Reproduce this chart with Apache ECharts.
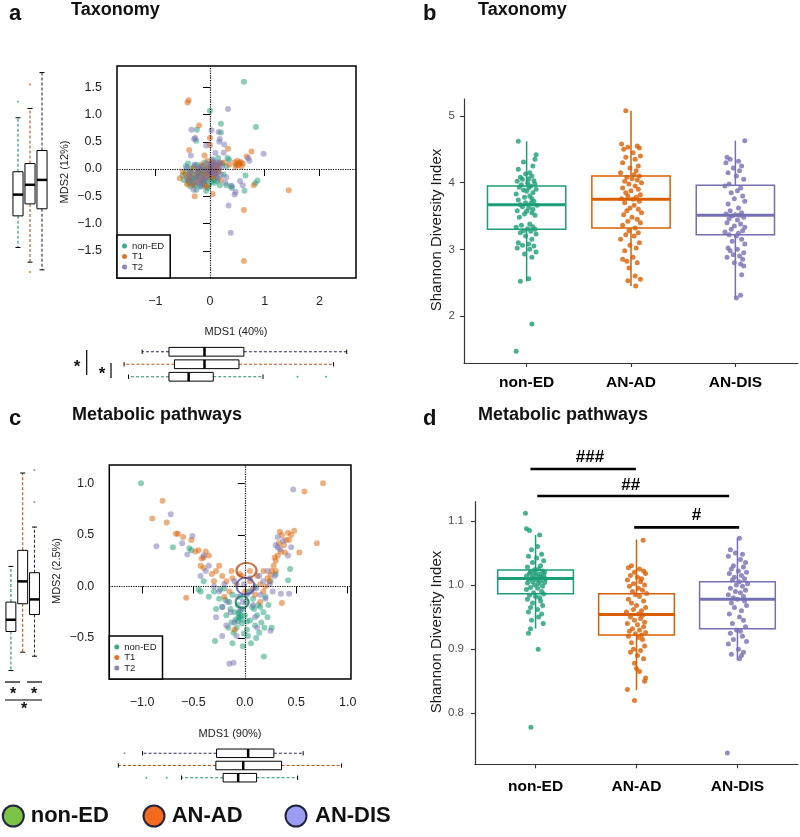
<!DOCTYPE html>
<html><head><meta charset="utf-8">
<script src="https://cdn.jsdelivr.net/npm/echarts@6/dist/echarts.min.js"></script>
<style>html,body{margin:0;padding:0;background:#fff;}#chart{width:800px;height:837px;}</style>
</head><body><div id="chart"></div>
<script>
const FONT = '"Liberation Sans", Arial, Helvetica, sans-serif';
const groupsShort = ['non-ED', 'T1', 'T2'];
const groupsLong = ['non-ED', 'AN-AD', 'AN-DIS'];
const COL = ['#1B9E77', '#D95F02', '#7570B3'];
const WHISK = ['#2a8a70', '#b8531c', '#2e2e55'];

// ---- panel a: taxonomy ordination (MDS1, MDS2) ----
const aNonED = [[0.62,1.60],[0.00,1.07],[0.84,0.77],[0.20,0.83],[-0.24,0.72],[-0.25,0.52],[0.20,0.67],[0.32,0.20],[0.35,0.17],[0.63,-0.40],[0.65,-0.12],[0.83,-0.26],[0.87,-0.21],[0.38,-0.31],[0.30,-0.30],[0.07,-0.20],[-0.07,-0.40],[0.22,0.10],[0.15,0.20],[0.30,0.05],
 [-0.45,-0.05],[-0.42,-0.15],[-0.38,-0.22],[-0.35,0.00],[-0.33,-0.10],[-0.30,-0.28],[-0.28,-0.18],[-0.26,-0.05],[-0.24,0.08],[-0.22,-0.25],[-0.20,-0.12],[-0.18,-0.32],[-0.16,-0.02],[-0.15,-0.20],[-0.13,0.05],[-0.12,-0.15],[-0.10,-0.28],[-0.08,-0.08],[-0.06,-0.22],[-0.05,0.02],[-0.03,-0.12],[-0.02,-0.30],[0.00,-0.05],[0.02,-0.18],[0.04,0.06],[0.06,-0.10],[0.08,-0.25],[0.10,0.00],[0.12,-0.15],[0.15,-0.05],[-0.40,0.10],[-0.36,-0.32],[-0.25,-0.38],[-0.48,-0.20],[0.18,-0.30],[-0.10,0.12],[0.05,0.15],
 [-0.40,-0.25],[-0.37,-0.05],[-0.32,-0.16],[-0.29,0.05],[-0.27,-0.30],[-0.21,-0.08],[-0.19,0.02],[-0.14,-0.26],[-0.11,-0.05],[-0.09,-0.20],[-0.04,-0.35],[-0.01,-0.10],[0.03,-0.24],[0.09,-0.08],[0.13,-0.22],[-0.44,0.05],[-0.34,-0.20],[-0.23,-0.14],[-0.17,-0.08],[0.11,0.08],[0.25,-0.10],[0.40,-0.35],[-0.50,-0.12]];
const aT1 = [[-0.39,1.26],[-0.41,1.22],[1.44,-0.39],[0.62,-1.69],[0.62,-0.75],[0.76,0.32],[0.67,0.23],[0.54,0.11],[0.48,0.08],[0.58,0.05],[0.50,0.15],[0.45,0.12],[0.60,0.10],[-0.20,0.80],[-0.38,0.35],[0.00,0.57],[0.00,0.44],[0.33,0.37],[-0.28,-0.50],[0.05,-0.46],[-0.06,-0.32],[-0.55,-0.17],[0.25,0.12],[0.35,0.08],[0.80,-0.30],
 [-0.45,-0.10],[-0.40,-0.20],[-0.35,-0.08],[-0.30,0.02],[-0.28,-0.25],[-0.25,-0.15],[-0.20,-0.02],[-0.18,-0.22],[-0.15,0.08],[-0.12,-0.10],[-0.10,-0.30],[-0.08,0.00],[-0.05,-0.15],[-0.02,0.05],[0.00,-0.05],[0.02,0.02],[0.04,-0.08],[0.06,0.06],[0.08,-0.02],[0.10,0.03],[0.12,-0.06],[0.03,0.10],[0.07,0.12],[-0.04,0.15],[0.14,0.08],[0.09,-0.12],[-0.33,-0.30],[0.20,-0.20],[-0.10,0.25],
 [0.01,-0.02],[0.03,0.00],[0.05,-0.04],[0.07,0.02],[0.09,0.05],[0.11,-0.01],[0.13,0.04],[0.05,0.08],[-0.01,-0.08],[0.02,-0.12],[0.06,-0.15],[-0.07,-0.05],[-0.13,-0.18],[-0.23,-0.08],[-0.38,-0.15],[-0.42,-0.28],[0.16,-0.03],[0.18,0.10],[0.52,0.07],[0.56,0.13],[0.47,0.04],[-0.50,-0.05]];
const aT2 = [[0.33,1.10],[0.98,0.28],[0.38,-1.17],[0.34,-0.67],[-0.34,0.72],[-0.27,0.57],[-0.29,0.55],[-0.07,0.43],[0.03,0.71],[0.16,0.68],[0.18,0.55],[0.17,0.50],[0.26,0.45],[0.45,-0.47],[0.47,-0.42],[0.40,-0.31],[0.30,-0.15],[0.55,-0.22],[0.70,0.20],[0.72,0.15],[-0.35,0.25],[0.25,0.30],[0.10,0.30],
 [-0.42,0.02],[-0.38,-0.12],[-0.32,-0.25],[-0.28,0.08],[-0.24,-0.08],[-0.20,-0.20],[-0.17,0.04],[-0.14,-0.12],[-0.11,-0.02],[-0.08,-0.18],[-0.05,0.10],[-0.02,-0.06],[0.01,0.08],[0.04,-0.02],[0.07,0.10],[0.10,-0.04],[0.13,0.12],[0.16,0.02],[0.20,-0.10],[0.05,0.18],[-0.15,-0.32],[0.22,0.05],[-0.30,-0.38],
 [-0.36,-0.05],[-0.26,-0.16],[-0.22,0.00],[-0.12,-0.22],[-0.06,-0.02],[0.00,-0.12],[0.03,0.03],[0.06,-0.08],[0.09,0.06],[0.12,-0.10],[0.15,-0.18],[-0.19,-0.28],[0.18,0.12],[-0.40,-0.20],[0.28,-0.25],[0.60,-0.30]];
// marginal boxplots: [lowWhisker, Q1, median, Q3, highWhisker]
const aBoxMDS2 = [[-1.44,-0.86,-0.47,-0.05,0.94],[-1.71,-0.64,-0.29,0.10,1.11],[-1.85,-0.73,-0.20,0.34,1.77]];
const aOutMDS2 = [[1.24],[1.55,-1.89],[]];
const aBoxMDS1 = [[-1.49,-0.75,-0.39,0.06,0.97],[-1.57,-0.65,-0.10,0.53,2.26],[-1.24,-0.75,-0.10,0.62,2.50]];
const aOutMDS1 = [[1.60,2.12],[],[]];

// ---- panel b: taxonomy Shannon ----
const bBoxes = [[2.52,3.30,3.67,3.95,4.62],[2.45,3.32,3.75,4.10,5.08],[2.27,3.22,3.51,3.96,4.63]];
const bNonED = [4.62,4.42,4.35,4.31,4.25,4.20,4.15,4.13,4.10,4.08,4.06,4.05,4.03,4.02,4.00,3.98,3.97,3.95,3.93,3.92,3.90,3.89,3.87,3.85,3.83,3.80,3.78,3.76,3.74,3.72,3.70,3.69,3.67,3.66,3.64,3.62,3.60,3.58,3.57,3.55,3.53,3.51,3.48,3.38,3.36,3.34,3.33,3.31,3.30,3.28,3.27,3.25,3.23,3.20,3.15,3.10,3.08,3.06,3.05,3.02,3.00,2.96,2.93,2.88,2.56,2.52,1.88,1.47];
const bNonEDJit = [-0.08,0.09,0.08,-0.03,0.06,-0.08,0.03,-0.01,0.05,-0.06,0.02,-0.04,0.07,-0.09,0.01,0.08,-0.05,0.04,-0.07,0.02,0.09,-0.03,0.00,0.06,-0.10,0.03,-0.02,0.05,-0.08,0.07,-0.01,0.04,-0.06,0.10,-0.04,0.02,0.06,-0.09,0.00,0.05,-0.02,0.08,-0.07,0.03,-0.05,0.06,-0.10,0.01,0.08,-0.03,0.04,-0.06,0.09,-0.01,0.05,-0.08,0.02,-0.04,0.07,-0.09,0.03,0.09,-0.02,0.05,0.02,-0.06,0.05,-0.10];
const bANAD = [5.08,4.58,4.55,4.53,4.52,4.50,4.45,4.40,4.38,4.35,4.30,4.25,4.22,4.18,4.15,4.12,4.10,4.08,4.06,4.04,4.02,4.00,3.98,3.95,3.92,3.90,3.88,3.85,3.82,3.80,3.78,3.76,3.75,3.72,3.70,3.66,3.62,3.60,3.58,3.55,3.52,3.48,3.45,3.42,3.40,3.36,3.32,3.28,3.25,3.22,3.20,3.15,3.10,3.06,3.02,2.98,2.88,2.85,2.82,2.80,2.72,2.60,2.55,2.53,2.45];
const bANADJit = [-0.05,-0.09,0.06,-0.03,0.08,-0.07,0.02,0.09,-0.05,0.04,-0.08,0.07,-0.01,0.05,-0.10,0.03,0.08,-0.04,0.01,0.06,-0.06,0.10,-0.02,0.04,-0.08,0.07,0.00,-0.05,0.09,-0.03,0.05,-0.09,0.02,0.08,-0.06,0.03,-0.01,0.07,-0.04,0.10,-0.07,0.01,0.06,-0.03,0.09,-0.08,0.04,-0.02,0.07,-0.05,0.03,-0.10,0.08,-0.01,0.05,-0.06,0.02,-0.08,-0.04,0.06,-0.02,0.04,0.09,-0.03,0.045];
const bANDIS = [4.63,4.38,4.35,4.32,4.30,4.25,4.22,4.18,4.15,4.10,4.05,3.98,3.95,3.92,3.88,3.85,3.80,3.76,3.72,3.68,3.62,3.58,3.55,3.53,3.52,3.51,3.50,3.48,3.46,3.44,3.40,3.38,3.35,3.33,3.30,3.28,3.26,3.24,3.22,3.20,3.15,3.12,3.08,3.02,3.00,2.98,2.95,2.92,2.90,2.88,2.85,2.80,2.78,2.75,2.62,2.31,2.27];
const bANDISJit = [0.09,-0.08,-0.05,0.03,-0.09,0.06,-0.02,0.04,-0.07,0.01,0.08,-0.06,-0.10,0.05,0.02,-0.04,0.07,-0.01,0.09,-0.07,0.03,-0.05,0.06,-0.09,0.00,0.04,-0.03,0.08,-0.06,0.02,-0.08,0.05,-0.01,0.09,-0.04,0.07,-0.10,0.03,-0.06,0.01,0.06,-0.03,0.09,-0.07,0.02,-0.05,0.08,-0.02,0.04,-0.08,0.07,-0.01,0.05,0.08,0.06,0.05,0.01];

// ---- panel c: metabolic pathway ordination ----
const cNonED = [[-1.01,1.00],[-0.70,0.38],[-0.54,0.37],[-0.52,0.35],[-0.45,-0.03],[-0.43,-0.05],[-0.40,0.05],[0.44,0.17],[0.42,0.06],[0.185,-0.68],[-0.29,-0.53],[0.03,-0.48],[0.30,0.12],[0.25,0.05],[0.20,-0.10],[0.15,-0.20],
 [-0.30,-0.05],[-0.25,-0.12],[-0.22,-0.20],[-0.20,-0.02],[-0.18,-0.28],[-0.15,-0.15],[-0.13,-0.35],[-0.12,-0.08],[-0.10,-0.25],[-0.08,-0.40],[-0.07,-0.18],[-0.05,-0.30],[-0.04,-0.10],[-0.03,-0.36],[-0.02,-0.22],[0.00,-0.28],[0.01,-0.15],[0.02,-0.42],[0.04,-0.05],[0.05,-0.33],[0.07,-0.20],[0.08,-0.12],[0.10,-0.38],[0.12,-0.28],[0.14,-0.45],[0.16,-0.35],[0.18,-0.25],[0.22,-0.30],[-0.06,-0.26],[-0.09,-0.32],[-0.11,-0.45],[-0.16,-0.40],[-0.28,-0.22],[0.06,-0.55],[-0.02,-0.58],[0.26,-0.40],[0.10,0.00],[-0.35,-0.10],
 [-0.06,-0.30],[-0.04,-0.28],[-0.03,-0.32],[-0.07,-0.34],[-0.05,-0.24],[0.02,-0.34],[0.09,-0.22],[0.13,-0.18],[-0.14,-0.22],[-0.19,-0.13],[-0.24,-0.03],[0.19,-0.40],[0.23,-0.18],[-0.01,-0.46],[0.11,-0.50],[-0.12,-0.55]];
const cT1 = [[-0.80,0.83],[-0.90,0.66],[-0.76,0.62],[-0.67,0.51],[-0.65,0.51],[-0.48,0.34],[-0.38,0.34],[-0.42,0.27],[-0.40,0.28],[-0.43,0.20],[-0.40,0.18],[-0.57,-0.11],[0.76,1.00],[0.58,0.92],[0.70,0.42],[0.53,0.33],[0.48,0.54],[0.45,0.50],[0.42,0.52],[0.36,0.50],[0.34,0.53],[0.35,0.34],[0.29,0.28],[0.30,0.25],[0.25,0.11],[0.22,0.08],[0.36,-0.16],[0.40,0.45],[0.38,0.40],[-0.28,0.15],[-0.22,0.10],[-0.18,0.05],[-0.32,0.12],[-0.25,0.20],[-0.12,0.08],[-0.08,0.02],[-0.05,0.12],[0.05,0.05],[0.08,-0.02],[0.12,0.10],[0.15,0.02],[0.18,0.15],[0.20,0.00],[-0.15,-0.05],[-0.20,-0.10],[0.10,-0.08],[-0.10,-0.42],[0.00,-0.05],[0.15,-0.15],[-0.30,0.05],[0.28,0.20],[0.32,0.30],
 [-0.35,0.30],[-0.45,0.35],[-0.52,0.45],[-0.60,0.48],[0.26,0.15],[0.33,0.42],[0.39,0.33],[0.43,0.45],[0.24,0.05],[-0.03,0.10],[0.05,0.15],[0.18,-0.05],[-0.13,0.15],[0.30,0.15]];
const cT2 = [[-0.72,0.70],[-0.86,0.39],[-0.51,0.49],[-0.61,0.42],[-0.56,0.31],[-0.43,0.10],[0.47,0.94],[0.37,0.44],[0.32,0.38],[0.34,0.36],[0.30,0.40],[0.35,-0.07],[0.43,-0.07],[-0.15,-0.75],[-0.11,-0.74],[-0.22,-0.48],[0.25,-0.43],[-0.35,0.20],[-0.38,0.15],[0.42,0.30],[0.45,0.38],
 [-0.25,-0.05],[-0.20,0.02],[-0.17,-0.15],[-0.14,-0.25],[-0.10,0.05],[-0.07,-0.10],[-0.04,-0.22],[-0.01,0.02],[0.02,-0.08],[0.05,0.08],[0.08,-0.18],[0.11,-0.02],[0.14,0.10],[0.18,0.05],[0.20,-0.12],[0.24,0.02],[0.22,0.15],[-0.28,-0.30],[-0.18,-0.38],[0.10,-0.30],[0.27,-0.05],[-0.10,-0.35],
 [-0.30,0.00],[-0.22,-0.20],[-0.02,-0.15],[0.06,-0.05],[0.15,-0.08],[0.32,0.48],[0.29,0.10],[-0.40,0.30],[0.12,-0.40],[-0.08,-0.48]];
const cCentroids = [[-0.026,-0.152],[0.016,0.155],[0.006,0.003]];
const cBoxMDS2 = [[-0.816,-0.437,-0.323,-0.152,0.194],[-0.638,-0.168,0.049,0.35,1.10],[-0.677,-0.272,-0.126,0.133,0.576]];
const cOutMDS2 = [[],[],[1.13,0.82]];
const cBoxMDS1 = [[-0.616,-0.211,-0.065,0.114,0.513],[-1.23,-0.282,-0.016,0.357,0.94],[-0.995,-0.275,0.032,0.282,0.567]];
const cOutMDS1 = [[-0.957,-0.76],[],[-1.17]];

// ---- panel d: metabolic pathway Shannon ----
const dBoxes = [[0.932,0.9864,1.0104,1.0234,1.078],[0.836,0.922,0.954,0.9864,1.071],[0.883,0.932,0.978,1.005,1.074]];
const dNonED = [1.112,1.088,1.085,1.078,1.060,1.055,1.048,1.045,1.042,1.038,1.035,1.030,1.028,1.025,1.024,1.022,1.021,1.020,1.019,1.018,1.017,1.016,1.015,1.014,1.013,1.012,1.011,1.010,1.009,1.008,1.006,1.005,1.004,1.003,1.002,1.000,0.998,0.996,0.995,0.993,0.990,0.988,0.986,0.984,0.982,0.980,0.978,0.975,0.972,0.968,0.965,0.962,0.958,0.955,0.950,0.945,0.940,0.932,0.925,0.900,0.778];
const dNonEDJit = [-0.10,-0.09,-0.06,0.04,0.02,-0.04,0.06,-0.07,0.01,0.08,-0.03,0.05,-0.08,0.03,-0.01,0.07,-0.05,0.09,0.00,-0.06,0.04,-0.02,0.08,-0.09,0.02,0.06,-0.04,0.10,-0.07,0.01,0.05,-0.03,0.09,-0.08,0.03,-0.01,0.07,-0.05,0.02,-0.09,0.06,-0.02,0.08,-0.06,0.00,0.04,-0.08,0.05,-0.03,0.07,-0.05,0.02,-0.07,0.06,0.03,-0.04,0.076,-0.05,-0.07,0.026,-0.046];
const dANAD = [1.070,1.030,1.027,1.025,1.022,1.020,1.018,1.015,1.012,1.010,1.008,1.005,1.002,1.000,0.998,0.995,0.992,0.990,0.987,0.985,0.982,0.978,0.975,0.972,0.968,0.965,0.962,0.960,0.958,0.955,0.953,0.950,0.948,0.945,0.942,0.940,0.938,0.935,0.932,0.930,0.928,0.926,0.924,0.922,0.920,0.918,0.915,0.910,0.905,0.900,0.898,0.895,0.890,0.885,0.878,0.870,0.865,0.855,0.850,0.837,0.820];
const dANADJit = [0.066,-0.05,-0.08,0.03,0.07,-0.02,0.09,-0.06,0.01,0.05,-0.09,0.04,-0.03,0.08,-0.07,0.02,0.06,-0.04,0.10,-0.01,0.03,-0.08,0.07,-0.05,0.00,0.09,-0.03,0.05,-0.10,0.02,0.06,-0.06,0.04,-0.02,0.08,-0.09,0.01,0.07,-0.04,0.03,-0.07,0.09,-0.01,0.05,-0.08,0.02,0.06,-0.05,0.08,-0.03,0.04,-0.06,0.01,0.07,-0.02,0.00,0.03,0.09,0.08,-0.09,-0.02];
const dANDIS = [1.073,1.055,1.050,1.048,1.045,1.040,1.035,1.030,1.028,1.025,1.022,1.020,1.018,1.015,1.012,1.010,1.008,1.005,1.002,1.000,0.998,0.995,0.992,0.990,0.988,0.985,0.982,0.980,0.978,0.975,0.972,0.968,0.965,0.960,0.955,0.950,0.945,0.940,0.935,0.930,0.928,0.925,0.920,0.915,0.912,0.908,0.900,0.895,0.892,0.890,0.885,0.738];
const dANDISJit = [0.02,-0.07,-0.02,0.05,-0.09,0.03,0.08,-0.04,0.06,-0.06,0.01,0.09,-0.08,0.04,-0.03,0.07,-0.05,0.02,0.10,-0.01,0.05,-0.07,0.08,-0.02,0.03,-0.09,0.06,-0.04,0.00,0.07,-0.06,0.09,-0.03,0.04,-0.08,0.02,0.06,-0.05,0.08,-0.01,0.03,-0.07,0.05,-0.04,0.09,-0.09,0.01,0.06,-0.06,0.04,0.02,-0.10];
// significance bars: [from, to, barY, labelX, labelY]
const dSigBars = [[0.95,1.994,1.181,1.539,1.2],[1.017,2.918,1.139,1.942,1.156],[1.977,3.017,1.090,2.595,1.109]];
const dSigLabels = ['###', '##', '#'];

const minus = s => s.replace('-', '\u2212');
const fmt1 = v => minus((Math.round(v * 10) / 10).toFixed(1));
const fmt0 = v => minus(String(Math.round(v)));

const chart = echarts.init(document.getElementById('chart'), null, {renderer: 'canvas'});

function rBoxRender(horizontal) {
  return function (params, api) {
    const pos = api.value(0);
    const gi = api.value(6);
    const c = v => horizontal ? api.coord([v, pos]) : api.coord([pos, v]);
    const vals = [1, 2, 3, 4, 5].map(i => c(api.value(i)));
    const k = horizontal ? 1 : 0, m = horizontal ? 0 : 1;
    const center = vals[0][k];
    const sz = horizontal ? api.size([0, 0.7])[1] : api.size([0.84, 0])[0];
    const hw = sz / 2, cw = hw * 0.5;
    const [lo, q1, md, q3, hi] = vals.map(p => p[m]);
    const seg = (a1, b1, a2, b2, style) => ({type: 'line', shape: horizontal ? {x1: a1, y1: b1, x2: a2, y2: b2} : {x1: b1, y1: a1, x2: b2, y2: a2}, style});
    const dash = {stroke: WHISK[gi], lineWidth: 1.1, lineDash: [3, 2]};
    const solid = {stroke: '#000', lineWidth: 1};
    return {type: 'group', children: [
      seg(q1, center, lo, center, dash),
      seg(q3, center, hi, center, dash),
      seg(lo, center - cw, lo, center + cw, solid),
      seg(hi, center - cw, hi, center + cw, solid),
      {type: 'rect', shape: horizontal ? {x: q1, y: center - hw, width: q3 - q1, height: 2 * hw} : {x: center - hw, y: q3, width: 2 * hw, height: q1 - q3}, style: {stroke: '#000', fill: 'none', lineWidth: 1}},
      seg(md, center - hw, md, center + hw, {stroke: '#000', lineWidth: 2.5})
    ]};
  };
}
function gBoxRender(params, api) {
  const pos = api.value(0), gi = api.value(6);
  const p = i => api.coord([pos, api.value(i)]);
  const lo = p(1), q1 = p(2), md = p(3), q3 = p(4), hi = p(5);
  const hw = api.size([0.75, 0])[0] / 2, cx = lo[0];
  const st = {stroke: COL[gi], lineWidth: 1.5, fill: 'none'};
  return {type: 'group', children: [
    {type: 'line', shape: {x1: cx, y1: q3[1], x2: cx, y2: hi[1]}, style: st},
    {type: 'line', shape: {x1: cx, y1: q1[1], x2: cx, y2: lo[1]}, style: st},
    {type: 'rect', shape: {x: cx - hw, y: q3[1], width: 2 * hw, height: q1[1] - q3[1]}, style: {stroke: COL[gi], lineWidth: 1.5, fill: '#fff'}},
    {type: 'line', shape: {x1: cx - hw, y1: md[1], x2: cx + hw, y2: md[1]}, style: {stroke: COL[gi], lineWidth: 3}}
  ]};
}
function sigRender(params, api) {
  const a = api.coord([api.value(0), api.value(2)]);
  const b = api.coord([api.value(1), api.value(2)]);
  const l = api.coord([api.value(3), api.value(4)]);
  return {type: 'group', children: [
    {type: 'line', shape: {x1: a[0], y1: a[1], x2: b[0], y2: b[1]}, style: {stroke: '#000', lineWidth: 2.6}},
    {type: 'text', x: l[0], y: l[1], style: {text: dSigLabels[params.dataIndex], fontSize: 17, fontWeight: 'bold', fontFamily: FONT, fill: '#000', align: 'center', verticalAlign: 'middle'}}
  ]};
}

const boxRows = (boxes) => boxes.map((b, i) => [i + 1].concat(b).concat([i]));
const outPts = (outs, horizontal) => {
  const r = [];
  outs.forEach((arr, i) => arr.forEach(v => r.push({value: horizontal ? [v, i + 1] : [i + 1, v], itemStyle: {color: COL[i]}})));
  return r;
};
const jit = (vals, jits, gi) => vals.map((v, i) => [gi + 1 + jits[i], v]);

const hidden = {show: false};
function rAxis(grid, min, max, ticks, fmt, isY) {
  return {gridIndex: grid, type: 'value', min, max, splitLine: hidden,
    axisLine: {show: false},
    axisTick: {show: true, inside: false, length: 7, customValues: ticks, lineStyle: {color: '#000', width: 1}},
    axisLabel: {customValues: ticks, formatter: fmt, margin: isY ? 15 : 17, fontSize: 12.5, color: '#222', fontFamily: FONT, hideOverlap: false}};
}
function gAxisX(grid, margin) {
  return {gridIndex: grid, type: 'value', min: 0.4, max: 3.6, splitLine: hidden,
    axisLine: {show: true, onZero: false, lineStyle: {color: '#333', width: 1.2}},
    axisTick: {show: true, length: 4, customValues: [1, 2, 3], lineStyle: {color: '#333', width: 1.1}},
    axisLabel: {customValues: [1, 2, 3], formatter: v => groupsLong[Math.round(v) - 1], margin, fontSize: 15.5, fontWeight: 'bold', color: '#000', fontFamily: FONT}};
}
function gAxisY(grid, min, max, ticks, fmt, margin) {
  return {gridIndex: grid, type: 'value', min, max, splitLine: hidden,
    axisLine: {show: true, onZero: false, lineStyle: {color: '#333', width: 1.2}},
    axisTick: {show: true, length: 4, customValues: ticks, lineStyle: {color: '#333', width: 1.1}},
    axisLabel: {customValues: ticks, formatter: fmt, margin, fontSize: 11.5, color: '#4d4d4d', fontFamily: FONT}};
}
const hAxis = (grid, min, max) => ({gridIndex: grid, type: 'value', min, max, show: false, splitLine: hidden});

const zeroLines = {silent: true, symbol: 'none', label: {show: false}, lineStyle: {type: 'dotted', color: '#000', width: 1.2}, data: [{xAxis: 0}, {yAxis: 0}], animation: false};
const ordSeries = (data, gi, ax, withLines) => ({
  type: 'scatter', name: groupsShort[gi], xAxisIndex: ax, yAxisIndex: ax, data, symbolSize: 6,
  itemStyle: {color: COL[gi], opacity: 0.5}, markLine: withLines ? zeroLines : undefined, z: 2
});
const legendCfg = (left, top) => ({
  data: groupsShort, orient: 'vertical', left, top, icon: 'circle', itemWidth: 5, itemHeight: 5, itemGap: 0.5,
  padding: [6, 6, 6, 5], backgroundColor: '#fff', borderColor: '#000', borderWidth: 1.5, borderRadius: 0,
  selectedMode: false, itemStyle: {opacity: 0.85},
  textStyle: {fontSize: 9.5, color: '#222', fontFamily: FONT, lineHeight: 10}, z: 10
});

const txt = (text, x, y, size, opts = {}) => ({type: 'text', x, y, rotation: opts.rot || 0, z: 100,
  style: {text, fontSize: size, fontWeight: opts.bold ? 'bold' : 'normal', fontFamily: FONT, fill: opts.fill || '#111', align: opts.align || 'left', verticalAlign: 'middle'}});
const seg = (x1, y1, x2, y2, w) => ({type: 'line', z: 100, shape: {x1, y1, x2, y2}, style: {stroke: '#000', lineWidth: w || 1.2}});
const LEG_Y = 816;
const legendCircle = (cx, fill) => ({type: 'circle', z: 100, shape: {cx, cy: LEG_Y, r: 10.5}, style: {fill, stroke: '#23233f', lineWidth: 2}});

const option = {
  animation: false,
  backgroundColor: '#fff',
  textStyle: {fontFamily: FONT},
  grid: [
    {left: 117, top: 66, width: 239, height: 212, show: true, borderColor: '#000', borderWidth: 1.5, backgroundColor: 'transparent'},
    {left: 12, top: 66, width: 36, height: 212},
    {left: 117, top: 345.5, width: 239, height: 37.5},
    {left: 464, top: 99, width: 334, height: 264},
    {left: 109.3, top: 465, width: 241.7, height: 214, show: true, borderColor: '#000', borderWidth: 1.5, backgroundColor: 'transparent'},
    {left: 5, top: 465, width: 35.4, height: 214},
    {left: 109.3, top: 747.2, width: 241.7, height: 36.6},
    {left: 475, top: 501.7, width: 323, height: 262.6}
  ],
  xAxis: [
    rAxis(0, -1.70, 2.67, [-1, 0, 1, 2], fmt0, false),
    hAxis(1, 0.5, 3.5),
    hAxis(2, -1.70, 2.67),
    gAxisX(3, 12),
    rAxis(4, -1.318, 1.032, [-1, -0.5, 0, 0.5, 1], fmt1, false),
    hAxis(5, 0.5, 3.5),
    hAxis(6, -1.318, 1.032),
    gAxisX(7, 14.5)
  ],
  yAxis: [
    rAxis(0, -2.0, 1.89, [-1.5, -1, -0.5, 0, 0.5, 1, 1.5], fmt1, true),
    hAxis(1, -2.0, 1.89),
    hAxis(2, 0.5, 3.5),
    gAxisY(3, 1.295, 5.255, [2, 3, 4, 5], v => String(Math.round(v)), 9),
    rAxis(4, -0.898, 1.178, [-0.5, 0, 0.5, 1], fmt1, true),
    hAxis(5, -0.898, 1.178),
    hAxis(6, 0.5, 3.5),
    gAxisY(7, 0.7204, 1.130, [0.8, 0.9, 1.0, 1.1], v => v.toFixed(1), 11)
  ],
  legend: [legendCfg(117, 235), legendCfg(109.3, 636)],
  series: [
    ordSeries(aNonED, 0, 0, true), ordSeries(aT1, 1, 0, false), ordSeries(aT2, 2, 0, false),
    {type: 'custom', name: 'aBoxMDS2', xAxisIndex: 1, yAxisIndex: 1, renderItem: rBoxRender(false), data: boxRows(aBoxMDS2), encode: {x: 0, y: [1, 2, 3, 4, 5]}},
    {type: 'scatter', name: 'aOutMDS2', xAxisIndex: 1, yAxisIndex: 1, symbolSize: 2, data: outPts(aOutMDS2, false)},
    {type: 'custom', name: 'aBoxMDS1', xAxisIndex: 2, yAxisIndex: 2, renderItem: rBoxRender(true), data: boxRows(aBoxMDS1), encode: {y: 0, x: [1, 2, 3, 4, 5]}},
    {type: 'scatter', name: 'aOutMDS1', xAxisIndex: 2, yAxisIndex: 2, symbolSize: 2, data: outPts(aOutMDS1, true)},
    {type: 'custom', name: 'bBox', xAxisIndex: 3, yAxisIndex: 3, renderItem: gBoxRender, data: boxRows(bBoxes), encode: {x: 0, y: [1, 2, 3, 4, 5]}, z: 2},
    {type: 'scatter', name: 'b non-ED', xAxisIndex: 3, yAxisIndex: 3, symbolSize: 5, itemStyle: {color: COL[0]}, data: jit(bNonED, bNonEDJit, 0), z: 3},
    {type: 'scatter', name: 'b AN-AD', xAxisIndex: 3, yAxisIndex: 3, symbolSize: 5, itemStyle: {color: COL[1]}, data: jit(bANAD, bANADJit, 1), z: 3},
    {type: 'scatter', name: 'b AN-DIS', xAxisIndex: 3, yAxisIndex: 3, symbolSize: 5, itemStyle: {color: COL[2]}, data: jit(bANDIS, bANDISJit, 2), z: 3},
    ordSeries(cNonED, 0, 4, true), ordSeries(cT1, 1, 4, false), ordSeries(cT2, 2, 4, false),
    {type: 'scatter', name: 'cCentroids', xAxisIndex: 4, yAxisIndex: 4, z: 4,
      data: [
        {value: cCentroids[0], symbolSize: [13, 12], itemStyle: {borderColor: '#1b7a5c'}},
        {value: cCentroids[1], symbolSize: [20, 15], itemStyle: {borderColor: '#b84f14'}},
        {value: cCentroids[2], symbolSize: [18, 17], itemStyle: {borderColor: '#4a4fae'}}
      ],
      itemStyle: {color: 'rgba(0,0,0,0)', borderWidth: 2}},
    {type: 'custom', name: 'cBoxMDS2', xAxisIndex: 5, yAxisIndex: 5, renderItem: rBoxRender(false), data: boxRows(cBoxMDS2), encode: {x: 0, y: [1, 2, 3, 4, 5]}},
    {type: 'scatter', name: 'cOutMDS2', xAxisIndex: 5, yAxisIndex: 5, symbolSize: 2, data: outPts(cOutMDS2, false)},
    {type: 'custom', name: 'cBoxMDS1', xAxisIndex: 6, yAxisIndex: 6, renderItem: rBoxRender(true), data: boxRows(cBoxMDS1), encode: {y: 0, x: [1, 2, 3, 4, 5]}},
    {type: 'scatter', name: 'cOutMDS1', xAxisIndex: 6, yAxisIndex: 6, symbolSize: 2, data: outPts(cOutMDS1, true)},
    {type: 'custom', name: 'dBox', xAxisIndex: 7, yAxisIndex: 7, renderItem: gBoxRender, data: boxRows(dBoxes), encode: {x: 0, y: [1, 2, 3, 4, 5]}, z: 2},
    {type: 'scatter', name: 'd non-ED', xAxisIndex: 7, yAxisIndex: 7, symbolSize: 5, itemStyle: {color: COL[0]}, data: jit(dNonED, dNonEDJit, 0), z: 3},
    {type: 'scatter', name: 'd AN-AD', xAxisIndex: 7, yAxisIndex: 7, symbolSize: 5, itemStyle: {color: COL[1]}, data: jit(dANAD, dANADJit, 1), z: 3},
    {type: 'scatter', name: 'd AN-DIS', xAxisIndex: 7, yAxisIndex: 7, symbolSize: 5, itemStyle: {color: COL[2]}, data: jit(dANDIS, dANDISJit, 2), z: 3},
    {type: 'custom', name: 'dSig', xAxisIndex: 7, yAxisIndex: 7, renderItem: sigRender, data: dSigBars, clip: false, encode: {x: [0, 1, 3], y: [2, 4]}, z: 5}
  ],
  graphic: [
    txt('a', 9, 14, 22, {bold: true}), txt('Taxonomy', 71, 10, 18, {bold: true}),
    txt('b', 423, 14, 22, {bold: true}), txt('Taxonomy', 478, 10, 18, {bold: true}),
    txt('c', 9, 419, 22, {bold: true}), txt('Metabolic pathways', 72, 415, 18, {bold: true}),
    txt('d', 423, 419, 22, {bold: true}), txt('Metabolic pathways', 478, 415, 18, {bold: true}),
    txt('MDS2 (12%)', 65, 172, 11, {rot: Math.PI / 2, align: 'center', fill: '#222'}),
    txt('MDS1 (40%)', 236, 332, 11, {align: 'center', fill: '#222'}),
    txt('MDS2 (2.5%)', 57, 571, 11, {rot: Math.PI / 2, align: 'center', fill: '#222'}),
    txt('MDS1 (90%)', 230, 734, 11, {align: 'center', fill: '#222'}),
    txt('Shannon Diversity Index', 437, 230, 15, {rot: Math.PI / 2, align: 'center', fill: '#1a1a1a'}),
    txt('Shannon Diversity Index', 437, 632, 15, {rot: Math.PI / 2, align: 'center', fill: '#1a1a1a'}),
    txt('*', 77, 367, 17, {bold: true, align: 'center'}), seg(86.7, 350, 86.7, 375),
    txt('*', 102, 374, 17, {bold: true, align: 'center'}), seg(111, 363, 111, 378),
    seg(5, 682, 20, 682), seg(27, 682, 42, 682), seg(5, 700, 42, 700),
    txt('*', 13, 695, 16, {bold: true, align: 'center'}), txt('*', 34, 695, 16, {bold: true, align: 'center'}),
    txt('*', 24, 710, 16, {bold: true, align: 'center'}),
    legendCircle(13.3, '#7cc244'), txt('non-ED', 30.7, LEG_Y, 22, {bold: true, fill: '#111'}),
    legendCircle(154, '#f36a1e'), txt('AN-AD', 171.7, LEG_Y, 22, {bold: true, fill: '#111'}),
    legendCircle(296, '#9c9cf2'), txt('AN-DIS', 315, LEG_Y, 22, {bold: true, fill: '#111'})
  ]
};
chart.setOption(option);
</script>
</body></html>
